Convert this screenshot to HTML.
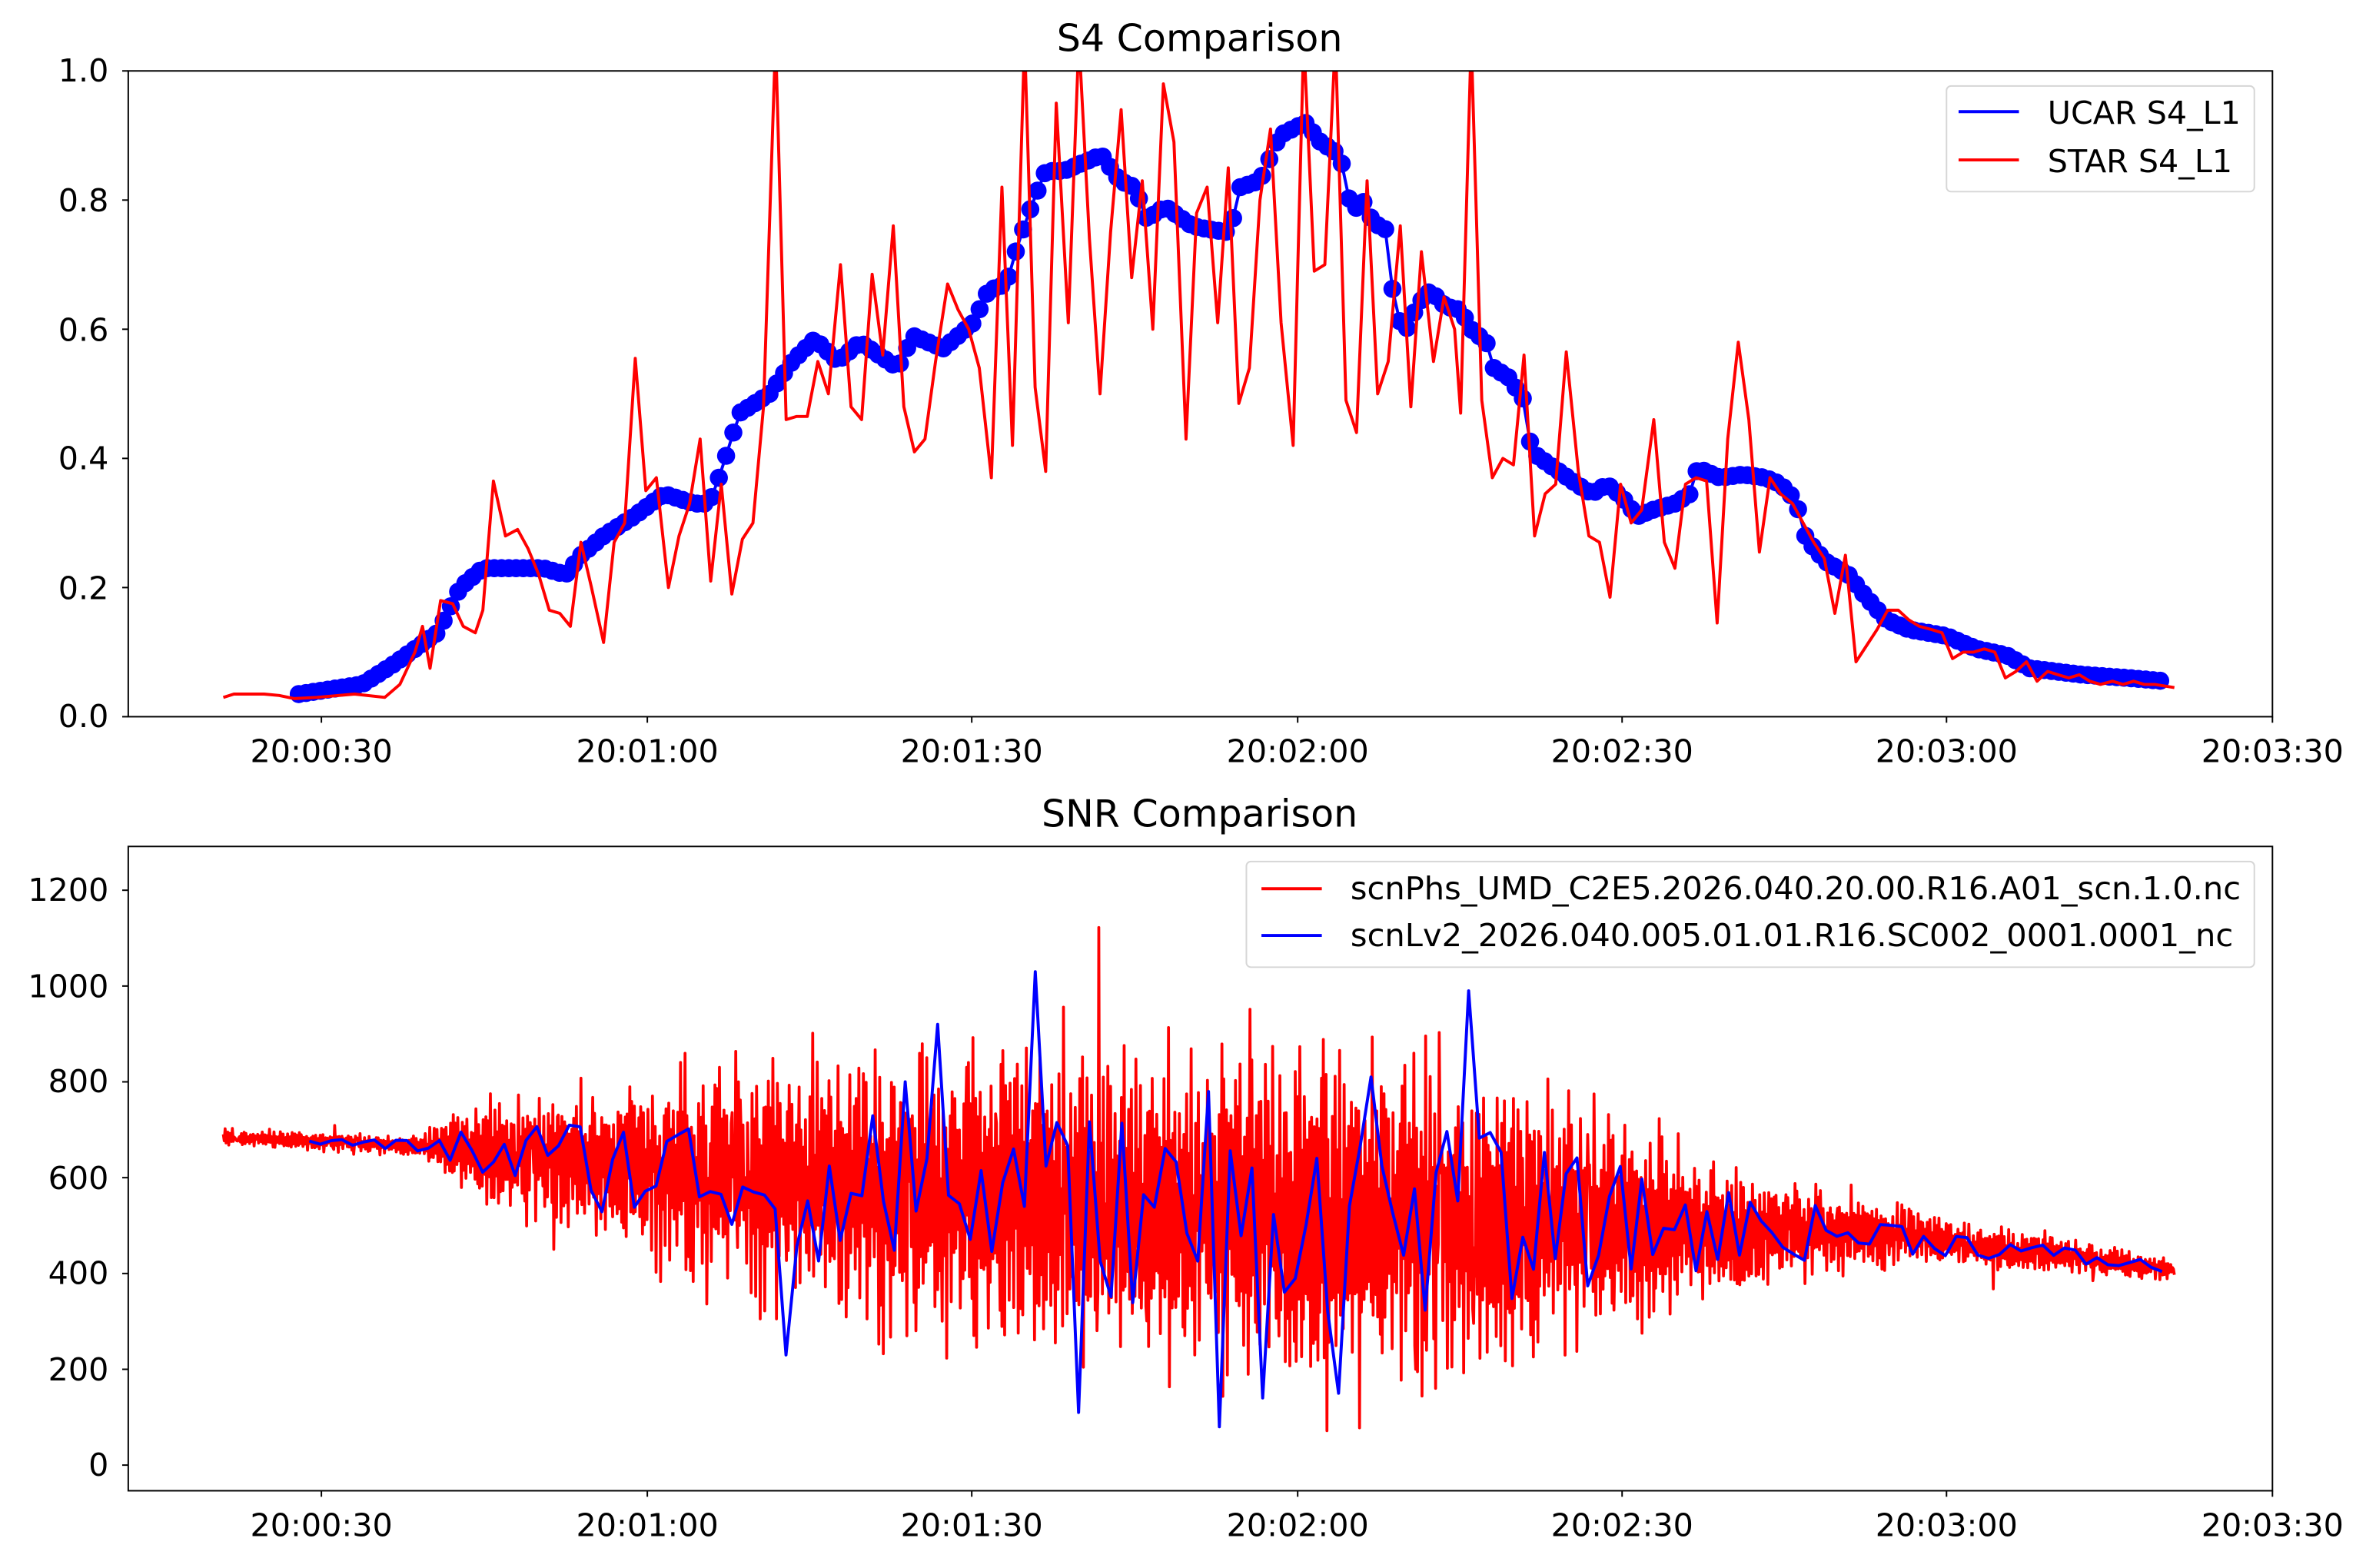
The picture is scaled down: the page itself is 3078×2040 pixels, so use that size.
<!DOCTYPE html>
<html><head><meta charset="utf-8"><style>
html,body{margin:0;padding:0;background:#fff;}
svg{display:block;}
text{font-family:"DejaVu Sans","Liberation Sans",sans-serif;fill:#000;}
</style></head><body>
<svg id="s" width="3078" height="2040" viewBox="0 0 1568 1039.2" preserveAspectRatio="none" xmlns="http://www.w3.org/2000/svg">
<defs>
<clipPath id="c1"><rect x="85" y="47" width="1421" height="428"/></clipPath>
<clipPath id="c2"><rect x="85" y="561" width="1421" height="427"/></clipPath>
</defs>
<rect width="1568" height="1040" fill="#fff"/>
<g id="topg" clip-path="url(#c1)"></g>
<g id="botg" clip-path="url(#c2)"></g>
<rect x="85" y="47" width="1421" height="428" fill="none" stroke="#000" stroke-width="1"/>
<rect x="85" y="561" width="1421" height="427" fill="none" stroke="#000" stroke-width="1"/>
<g id="ticks" stroke="#000" stroke-width="1"></g>
<text x="795" y="34" font-size="25" text-anchor="middle">S4 Comparison</text>
<text x="795" y="548" font-size="25" text-anchor="middle">SNR Comparison</text>
<rect x="1290" y="57" width="204" height="70" rx="3" fill="#fff" fill-opacity="0.8" stroke="#d6d6d6" stroke-width="1"/>
<line x1="1298" y1="74" x2="1338" y2="74" stroke="#0000ff" stroke-width="2"/>
<line x1="1298" y1="106" x2="1338" y2="106" stroke="#ff0000" stroke-width="2"/>
<text x="1357" y="82" font-size="21">UCAR S4_L1</text>
<text x="1357" y="114" font-size="21">STAR S4_L1</text>
<rect x="826" y="571" width="668" height="70" rx="3" fill="#fff" fill-opacity="0.8" stroke="#d6d6d6" stroke-width="1"/>
<line x1="836" y1="589" x2="876" y2="589" stroke="#ff0000" stroke-width="2"/>
<line x1="836" y1="620" x2="876" y2="620" stroke="#0000ff" stroke-width="2"/>
<text x="895" y="596" font-size="21" textLength="590" lengthAdjust="spacingAndGlyphs">scnPhs_UMD_C2E5.2026.040.20.00.R16.A01_scn.1.0.nc</text>
<text x="895" y="627" font-size="21" textLength="585" lengthAdjust="spacingAndGlyphs">scnLv2_2026.040.005.01.01.R16.SC002_0001.0001_nc</text>
<g font-size="21">
<text x="72" y="482" text-anchor="end">0.0</text>
<text x="72" y="397" text-anchor="end">0.2</text>
<text x="72" y="311" text-anchor="end">0.4</text>
<text x="72" y="226" text-anchor="end">0.6</text>
<text x="72" y="140" text-anchor="end">0.8</text>
<text x="72" y="54" text-anchor="end">1.0</text>
<text x="213" y="505" text-anchor="middle">20:00:30</text>
<text x="429" y="505" text-anchor="middle">20:01:00</text>
<text x="644" y="505" text-anchor="middle">20:01:30</text>
<text x="860" y="505" text-anchor="middle">20:02:00</text>
<text x="1075" y="505" text-anchor="middle">20:02:30</text>
<text x="1290" y="505" text-anchor="middle">20:03:00</text>
<text x="1506" y="505" text-anchor="middle">20:03:30</text>
<text x="72" y="978" text-anchor="end">0</text>
<text x="72" y="915" text-anchor="end">200</text>
<text x="72" y="851" text-anchor="end">400</text>
<text x="72" y="788" text-anchor="end">600</text>
<text x="72" y="724" text-anchor="end">800</text>
<text x="72" y="661" text-anchor="end">1000</text>
<text x="72" y="597" text-anchor="end">1200</text>
<text x="213" y="1018" text-anchor="middle">20:00:30</text>
<text x="429" y="1018" text-anchor="middle">20:01:00</text>
<text x="644" y="1018" text-anchor="middle">20:01:30</text>
<text x="860" y="1018" text-anchor="middle">20:02:00</text>
<text x="1075" y="1018" text-anchor="middle">20:02:30</text>
<text x="1290" y="1018" text-anchor="middle">20:03:00</text>
<text x="1506" y="1018" text-anchor="middle">20:03:30</text>
</g>
</svg>
<script>
(function(){
var NS="http://www.w3.org/2000/svg";
function el(p,t,a){var e=document.createElementNS(NS,t);for(var k in a)e.setAttribute(k,a[k]);p.appendChild(e);return e;}
var tk=document.getElementById('ticks');
[213,429,644,860,1075,1290,1506].forEach(function(x){el(tk,'line',{x1:x,y1:475,x2:x,y2:479});el(tk,'line',{x1:x,y1:988,x2:x,y2:992});});
[0,0.2,0.4,0.6,0.8,1].forEach(function(v){var y=475-v*428;el(tk,'line',{x1:81,y1:y,x2:85,y2:y});});
[0,200,400,600,800,1000,1200].forEach(function(v){var y=971-v*0.3175;el(tk,'line',{x1:81,y1:y,x2:85,y2:y});});
function interp(pts,x){if(x<=pts[0][0])return pts[0][1];for(var i=1;i<pts.length;i++){if(x<=pts[i][0]){var a=pts[i-1],b=pts[i];return a[1]+(b[1]-a[1])*(x-a[0])/(b[0]-a[0]);}}return pts[pts.length-1][1];}
var blue=[[198,0.035],[240,0.05],[260,0.08],[290,0.13],[305,0.2],[320,0.23],[360,0.23],[375,0.22],[385,0.25],[400,0.28],[420,0.31],[440,0.345],[460,0.33],[470,0.33],[478,0.38],[490,0.47],[510,0.5],[525,0.55],[540,0.585],[555,0.55],[570,0.58],[595,0.54],[605,0.59],[625,0.57],[645,0.61],[655,0.66],[667,0.67],[675,0.735],[685,0.8],[693,0.845],[705,0.845],[730,0.87],[742,0.83],[752,0.82],[760,0.77],[772,0.79],[790,0.76],[800,0.755],[815,0.75],[822,0.82],[835,0.83],[848,0.9],[865,0.92],[875,0.89],[888,0.87],[896,0.78],[903,0.8],[910,0.765],[918,0.755],[925,0.62],[932,0.6],[940,0.64],[948,0.66],[958,0.635],[968,0.63],[975,0.6],[985,0.58],[990,0.54],[1000,0.525],[1010,0.49],[1015,0.41],[1030,0.385],[1045,0.36],[1055,0.345],[1065,0.36],[1075,0.34],[1085,0.31],[1095,0.32],[1110,0.33],[1120,0.345],[1125,0.385],[1140,0.37],[1155,0.375],[1170,0.37],[1180,0.36],[1190,0.335],[1197,0.275],[1210,0.24],[1225,0.22],[1235,0.19],[1250,0.15],[1265,0.135],[1290,0.125],[1310,0.105],[1330,0.095],[1345,0.075],[1380,0.065],[1410,0.06],[1435,0.055]];
var tg=document.getElementById('topg');
var d='',dots=[];
for(var x=198;x<=1435;x+=4.8){var v=interp(blue,x);var y=475-v*428;d+=(d?'L':'M')+x.toFixed(1)+' '+y.toFixed(1);dots.push([x,y]);}
el(tg,'path',{d:d,fill:'none',stroke:'#0000ff','stroke-width':2});
dots.forEach(function(p){el(tg,'circle',{cx:p[0],cy:p[1],r:6,fill:'#0000ff'});});
var red=[[148,0.03],[155,0.035],[175,0.035],[185,0.033],[195,0.028],[210,0.03],[235,0.035],[255,0.03],[265,0.05],[275,0.1],[280,0.14],[285,0.075],[292,0.18],[300,0.175],[307,0.14],[315,0.13],[320,0.165],[327,0.365],[335,0.28],[343,0.29],[350,0.26],[357,0.22],[364,0.165],[371,0.16],[378,0.14],[385,0.27],[392,0.2],[400,0.115],[407,0.27],[414,0.3],[421,0.555],[428,0.35],[435,0.37],[443,0.2],[450,0.28],[457,0.33],[464,0.43],[471,0.21],[478,0.36],[485,0.19],[492,0.275],[499,0.3],[506,0.48],[514,1.05],[521,0.46],[528,0.465],[535,0.465],[542,0.55],[549,0.5],[557,0.7],[564,0.48],[571,0.46],[578,0.685],[585,0.56],[592,0.76],[599,0.48],[606,0.41],[613,0.43],[620,0.55],[628,0.67],[635,0.63],[642,0.6],[649,0.54],[657,0.37],[664,0.82],[671,0.42],[679,1.05],[686,0.51],[693,0.38],[700,0.95],[708,0.61],[715,1.05],[722,0.74],[729,0.5],[736,0.75],[743,0.94],[750,0.68],[757,0.83],[764,0.6],[771,0.98],[778,0.89],[786,0.43],[793,0.78],[800,0.82],[807,0.61],[814,0.85],[821,0.485],[828,0.54],[835,0.8],[842,0.91],[849,0.61],[857,0.42],[864,1.05],[871,0.69],[878,0.7],[885,1.05],[892,0.49],[899,0.44],[906,0.83],[913,0.5],[920,0.55],[928,0.76],[935,0.48],[942,0.72],[950,0.55],[957,0.65],[964,0.6],[968,0.47],[975,1.05],[982,0.49],[989,0.37],[996,0.4],[1003,0.39],[1010,0.56],[1017,0.28],[1024,0.345],[1031,0.36],[1038,0.565],[1046,0.38],[1053,0.28],[1060,0.27],[1067,0.185],[1074,0.36],[1081,0.3],[1088,0.32],[1096,0.46],[1103,0.27],[1110,0.23],[1117,0.36],[1124,0.37],[1131,0.365],[1138,0.145],[1145,0.43],[1152,0.58],[1159,0.46],[1166,0.255],[1173,0.37],[1180,0.345],[1188,0.33],[1195,0.3],[1202,0.27],[1209,0.245],[1216,0.16],[1223,0.25],[1230,0.085],[1237,0.11],[1244,0.135],[1251,0.165],[1258,0.165],[1265,0.15],[1272,0.14],[1280,0.135],[1287,0.13],[1294,0.09],[1301,0.1],[1308,0.1],[1315,0.105],[1322,0.1],[1329,0.06],[1336,0.07],[1343,0.085],[1350,0.055],[1357,0.07],[1364,0.065],[1371,0.06],[1378,0.065],[1385,0.055],[1392,0.05],[1400,0.055],[1407,0.05],[1414,0.055],[1421,0.05],[1428,0.05],[1441,0.045]];
d='';red.forEach(function(p){d+=(d?'L':'M')+p[0]+' '+(475-p[1]*428).toFixed(1);});
el(tg,'path',{d:d,fill:'none',stroke:'#ff0000','stroke-width':2,'stroke-linejoin':'round'});
var seed=12345;function rnd(){seed=(seed*1103515245+12345)%2147483648;return seed/2147483648;}
var mean=[[148,685],[280,665],[430,620],[600,560],[860,520],[1100,500],[1250,480],[1441,410]];
var amp=[[148,22],[280,28],[300,100],[340,170],[420,250],[500,320],[600,400],[700,450],[850,470],[980,430],[1050,300],[1120,230],[1180,150],[1230,100],[1300,60],[1441,28]];
var bg=document.getElementById('botg');
d='';var ph=0;
for(var x=148;x<=1441;x+=0.6){ph+=2.2+rnd()*0.5;var a=interp(amp,x);var v=interp(mean,x)+a*(0.7*Math.sin(ph)+0.3*(rnd()*2-1))*(0.55+0.45*rnd());
if(rnd()<0.012)v+=a*(rnd()<0.5?-0.7:0.7);
if(v<8)v=8+rnd()*20;
d+=(d?'L':'M')+x.toFixed(2)+' '+(971-v*0.3175).toFixed(1);}
el(bg,'path',{d:d,fill:'none',stroke:'#ff0000','stroke-width':1.9,'stroke-linejoin':'round'});
var spikes={684:1030,625:920,975:990,803:780,598:800,910:810,835:140,807:80,714:110,518:230,888:150};
d='';
for(var x=205;x<=1435;x+=7.18){var a=interp(amp,x)*0.45;var v=interp(mean,x)+a*(rnd()*2-1);
for(var k in spikes){if(Math.abs(x-k)<3.6)v=spikes[k];}
d+=(d?'L':'M')+x.toFixed(1)+' '+(971-v*0.3175).toFixed(1);}
el(bg,'path',{d:d,fill:'none',stroke:'#0000ff','stroke-width':2,'stroke-linejoin':'round'});
})();
</script>
</body></html>
